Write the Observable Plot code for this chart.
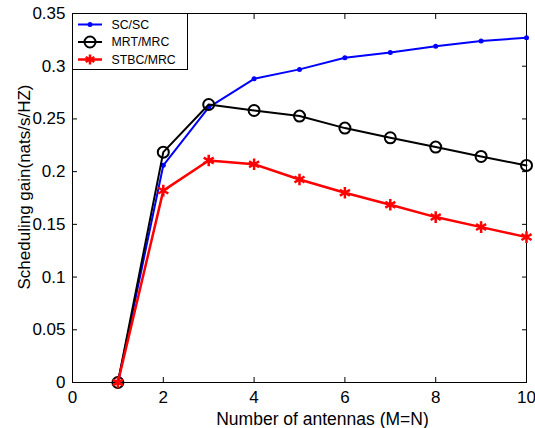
<!DOCTYPE html>
<html><head><meta charset="utf-8">
<script src="https://cdn.jsdelivr.net/npm/d3@7"></script>
<script src="https://cdn.jsdelivr.net/npm/@observablehq/plot@0.6"></script>
<style>
body{margin:0;background:#fff;}
#wrap{position:relative;width:535px;height:428px;font-family:Arial,"Liberation Sans",sans-serif;}
#legend{position:absolute;left:72px;top:13px;width:116px;height:57px;border:1px solid #000;background:#fff;box-sizing:border-box;}
#legend svg{display:block;}
</style></head><body><div id="wrap"></div>
<script>
const antennas = [1, 2, 3, 4, 5, 6, 7, 8, 9, 10];
const scsc    = [0, 0.206, 0.261, 0.288, 0.297, 0.308, 0.313, 0.319, 0.324, 0.327];
const mrtmrc  = [0, 0.2185, 0.2637, 0.258, 0.2527, 0.2413, 0.2321, 0.2233, 0.2144, 0.2059];
const stbcmrc = [0, 0.182, 0.2106, 0.207, 0.1926, 0.180, 0.1686, 0.1569, 0.1474, 0.1379];
const seriesNames = ["SC/SC", "MRT/MRC", "STBC/MRC"];
const seriesColors = ["#0000ff", "#000000", "#ff0000"];
const xTicks = [0, 2, 4, 6, 8, 10];
const yTicks = [0, 0.05, 0.1, 0.15, 0.2, 0.25, 0.3, 0.35];
const yTickLabels = ["0", "0.05", "0.1", "0.15", "0.2", "0.25", "0.3", "0.35"];
const xLabel = "Number of antennas (M=N)";
const yLabel = "Scheduling gain(nats/s/HZ)";

const seriesValues = [scsc, mrtmrc, stbcmrc];
const rows = seriesNames.map((name, s) => antennas.map((a, i) => ({series: name, x: a, y: seriesValues[s][i]})));

const font = "Arial, 'Liberation Sans', sans-serif";

const chart = Plot.plot({
  width: 535,
  height: 428,
  marginLeft: 72,
  marginRight: 9,
  marginTop: 13,
  marginBottom: 46,
  style: {fontFamily: font, background: "#fff", color: "#000"},
  x: {domain: [0, 10]},
  y: {domain: [0, 0.35]},
  marks: [
    Plot.axisX(xTicks, {anchor: "bottom", tickSize: -5, tickPadding: 13, fontSize: 17, label: null, stroke: "#000"}),
    Plot.axisX(xTicks, {anchor: "top", tickSize: -5, tickFormat: () => "", label: null}),
    Plot.axisY(yTicks, {anchor: "left", tickSize: -5, tickPadding: 12, fontSize: 17, label: null,
      tickFormat: d => yTickLabels[yTicks.indexOf(d)]}),
    Plot.axisY(yTicks, {anchor: "right", tickSize: -5, tickFormat: () => "", label: null}),
    Plot.frame({stroke: "#000", strokeWidth: 1}),
    Plot.line(rows[0], {x: "x", y: "y", stroke: seriesColors[0], strokeWidth: 2}),
    Plot.dot(rows[0], {x: "x", y: "y", fill: seriesColors[0], r: 2.5}),
    Plot.line(rows[1], {x: "x", y: "y", stroke: seriesColors[1], strokeWidth: 2}),
    Plot.dot(rows[1], {x: "x", y: "y", stroke: seriesColors[1], fill: "none", r: 5.5, strokeWidth: 2}),
    Plot.line(rows[2], {x: "x", y: "y", stroke: seriesColors[2], strokeWidth: 2.5}),
    Plot.dot(rows[2], {x: "x", y: "y", symbol: "asterisk", stroke: seriesColors[2], r: 5.5, strokeWidth: 2.5}),
    Plot.text([xLabel], {text: d => d, frameAnchor: "bottom", textAnchor: "middle", dx: 23, dy: 42, lineAnchor: "bottom", fontSize: 17.5}),
    Plot.text([yLabel], {text: d => d, frameAnchor: "left", textAnchor: "middle", lineAnchor: "middle", dx: -48, dy: -11, rotate: -90, fontSize: 17})
  ]
});

const wrap = document.getElementById("wrap");
wrap.appendChild(chart);

// Legend
const legend = document.createElement("div");
legend.id = "legend";
wrap.appendChild(legend);
const lsvg = d3.select(legend).append("svg").attr("width", 114).attr("height", 55);
const rowY = [10.5, 28, 45.5];
seriesNames.forEach((name, s) => {
  const g = lsvg.append("g").attr("transform", `translate(0,${rowY[s]})`);
  g.append("line").attr("x1", 5).attr("x2", 29).attr("y1", 0).attr("y2", 0)
    .attr("stroke", seriesColors[s]).attr("stroke-width", s === 2 ? 2.5 : 2);
  if (s === 0) g.append("circle").attr("cx", 17).attr("cy", 0).attr("r", 2.5).attr("fill", seriesColors[s]);
  if (s === 1) g.append("circle").attr("cx", 17).attr("cy", 0).attr("r", 5.5).attr("fill", "none").attr("stroke", seriesColors[s]).attr("stroke-width", 2);
  if (s === 2) g.append("path").attr("transform", "translate(17,0)")
    .attr("d", d3.symbol(d3.symbolAsterisk, 70)()).attr("stroke", seriesColors[s]).attr("stroke-width", 2.5).attr("fill", "none");
  g.append("text").attr("x", 38.5).attr("y", 0).attr("dy", "0.35em")
    .attr("font-family", font).attr("font-size", 12.3).attr("fill", "#000").text(name);
});
</script>
</body></html>
